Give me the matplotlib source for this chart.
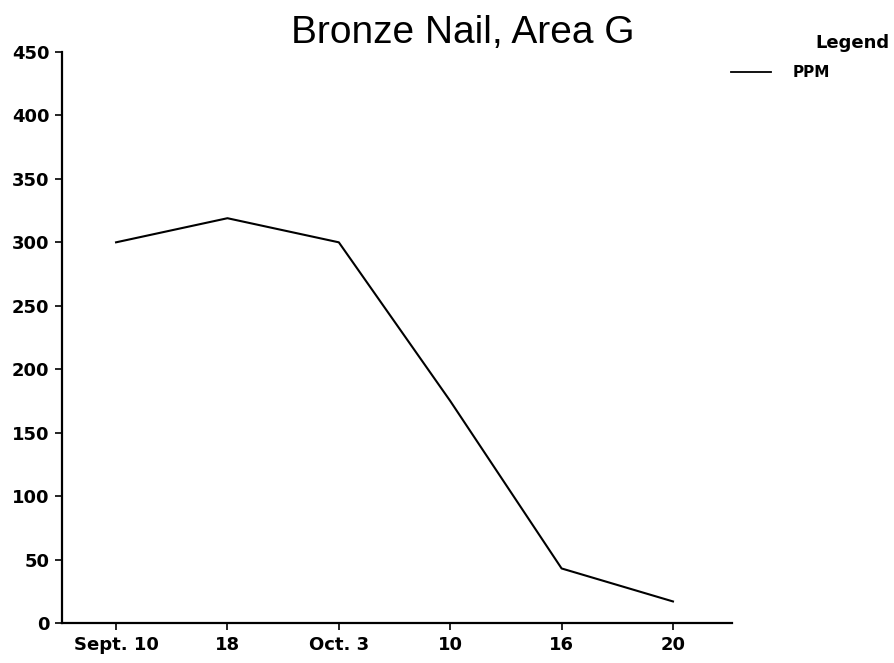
import matplotlib.pyplot as plt
import numpy as np

# nail readings, parts per million
dates = ["Sept. 10", "18", "Oct. 3", "10", "16", "20"]
ppm = [300, 319, 300, 175, 43, 17]

plt.rcParams['font.family'] = ['Liberation Sans', 'DejaVu Sans']

fig = plt.figure(figsize=(8.94, 6.63), dpi=100)
ax = fig.add_axes([0.0694, 0.0603, 0.7494, 0.8613])

x = np.arange(len(dates))
ax.plot(x, ppm, color="black", lw=1.5, label="PPM")

ax.set_xlim(-0.485, 5.53)
ax.set_ylim(0, 450)
ax.set_xticks(x)
ax.set_xticklabels(dates)
ax.set_yticks(np.arange(0, 451, 50))

for side in ["top", "right"]:
    ax.spines[side].set_visible(False)
for side in ["left", "bottom"]:
    ax.spines[side].set_linewidth(1.6)
ax.tick_params(axis="both", direction="out", length=5, width=1.2, pad=4)
for lab in ax.get_xticklabels() + ax.get_yticklabels():
    lab.set_fontfamily("DejaVu Sans")
    lab.set_fontweight("bold")
    lab.set_fontsize(13)

fig.text(0.518, 0.95, "Bronze Nail, Area G", ha="center", va="center",
         fontsize=28)

# legend drawn by hand at the right edge
fig.text(0.953, 0.935, "Legend", ha="center", va="center",
         family="DejaVu Sans", fontsize=13, fontweight="bold")
fig.add_artist(plt.Line2D([0.818, 0.862], [0.891, 0.891], color="black", lw=1.3))
fig.text(0.887, 0.891, "PPM", ha="left", va="center",
         family="DejaVu Sans", fontsize=11, fontweight="bold")

fig.savefig("out.png", dpi=100)
